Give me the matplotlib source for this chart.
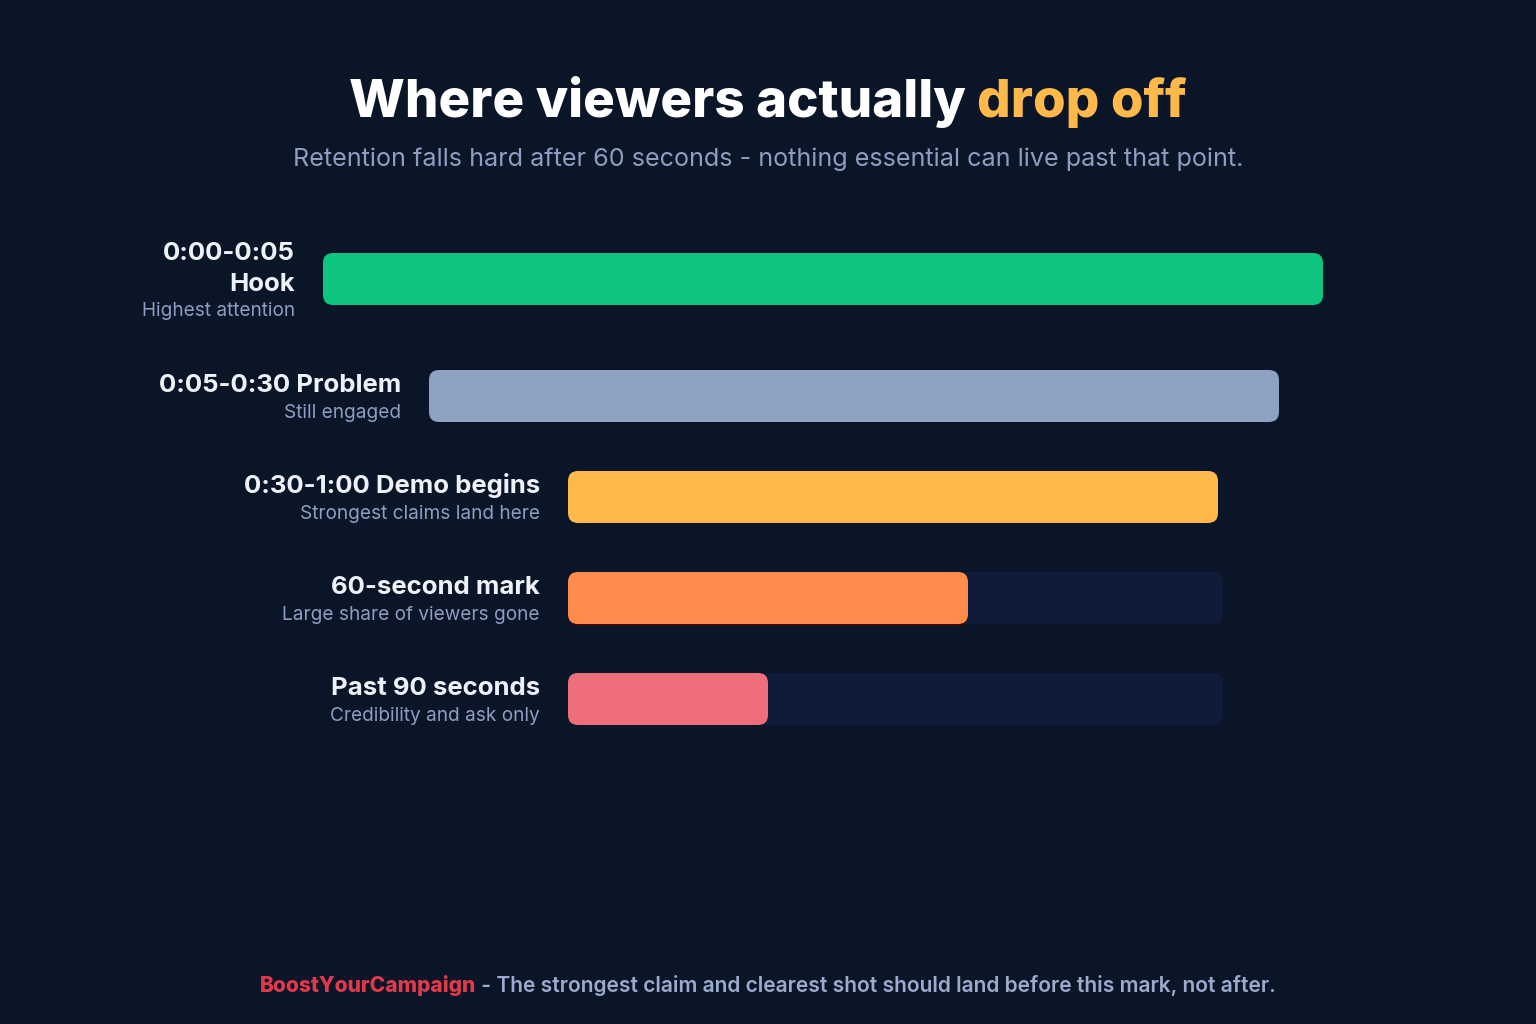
import matplotlib
matplotlib.use("Agg")
import matplotlib.pyplot as plt
from matplotlib.patches import FancyBboxPatch

# ---- data ----
labels = ["0:00-0:05\nHook", "0:05-0:30 Problem", "0:30-1:00 Demo begins",
          "60-second mark", "Past 90 seconds"]
sublabels = ["Highest attention", "Still engaged", "Strongest claims land here",
             "Large share of viewers gone", "Credibility and ask only"]
values = [100, 85, 65, 40, 20]          # retention share (bar length)
track = [0, 0, 0, 65.5, 65.5]           # background track length
colors = ["#0ec57f", "#8fa2c4", "#ffb84a", "#ff8c4c", "#ee6e7c"]

title_a = "Where viewers actually "
title_b = "drop off"
subtitle = "Retention falls hard after 60 seconds - nothing essential can live past that point."
brand = "BoostYourCampaign"
footer = " - The strongest claim and clearest shot should land before this mark, not after."

BG = "#0b1528"
TRACK = "#0f1b38"
WHITE = "#eef2f8"
MUTED = "#8e9ec0"

plt.rcParams["font.family"] = ["Inter", "DejaVu Sans"]

fig = plt.figure(figsize=(15.36, 10.24), dpi=100, facecolor=BG)
ax = fig.add_axes([0, 0, 1, 1])
ax.set_xlim(0, 1536)
ax.set_ylim(1024, 0)
ax.axis("off")
ax.set_facecolor(BG)

# layout (pixel coords)
starts = [323, 429, 568, 568, 568]
centers = [279, 396, 497, 598, 699]
bar_h = 52
scale = 10.0  # px per unit
rad = 10
LFS = 18.5
SFS = 13.7

for i in range(len(values)):
    x0 = starts[i]
    yc = centers[i]
    if track[i] > 0:
        ax.add_patch(FancyBboxPatch((x0 + rad, yc - bar_h / 2 + rad),
                                    track[i] * scale - 2 * rad, bar_h - 2 * rad,
                                    boxstyle=f"round,pad={rad}", fc=TRACK, ec="none", zorder=1))
    w = values[i] * scale
    if i == 3:
        ax.add_patch(FancyBboxPatch((x0 + rad, yc - bar_h / 2 + rad + 2),
                                    w - 2 * rad, bar_h - 2 * rad,
                                    boxstyle=f"round,pad={rad}", fc="#3a0d0a", ec="none", zorder=1.5))
    ax.add_patch(FancyBboxPatch((x0 + rad, yc - bar_h / 2 + rad),
                                w - 2 * rad, bar_h - 2 * rad,
                                boxstyle=f"round,pad={rad}", fc=colors[i], ec="none", zorder=2))
    lx = x0 - 28
    if "\n" in labels[i]:
        l1, l2 = labels[i].split("\n")
        ax.text(lx, 260, l1, ha="right", va="baseline", color=WHITE, fontsize=LFS, fontweight="bold")
        ax.text(lx, 291, l2, ha="right", va="baseline", color=WHITE, fontsize=LFS, fontweight="bold")
        ax.text(lx, 316, sublabels[i], ha="right", va="baseline", color=MUTED, fontsize=SFS)
    else:
        ax.text(lx, yc - 4, labels[i], ha="right", va="baseline", color=WHITE, fontsize=LFS, fontweight="bold")
        ax.text(lx, yc + 22, sublabels[i], ha="right", va="baseline", color=MUTED, fontsize=SFS)

# ---- title with two colours ----
fig.canvas.draw()
r = fig.canvas.get_renderer()

def width_px(t):
    bb = t.get_window_extent(renderer=r)
    return bb.width

TFS = 38
ta = ax.text(0, 117, title_a, ha="left", va="baseline", color="#ffffff", fontsize=TFS, fontweight="heavy")
tb = ax.text(0, 117, title_b, ha="left", va="baseline", color="#ffb84a", fontsize=TFS, fontweight="heavy")
wa, wb = width_px(ta), width_px(tb)
x_start = 768 - (wa + wb) / 2
ta.set_x(x_start)
tb.set_x(x_start + wa)

ax.text(768, 166, subtitle, ha="center", va="baseline", color=MUTED, fontsize=18.1)

# ---- footer ----
FFS = 15.1
fa = ax.text(0, 992, brand, ha="left", va="baseline", color="#e0394a", fontsize=FFS, fontweight="heavy")
fb = ax.text(0, 992, footer, ha="left", va="baseline", color="#9aabcc", fontsize=FFS, fontweight="semibold")
wa, wb = width_px(fa), width_px(fb)
x_start = 768 - (wa + wb) / 2
fa.set_x(x_start)
fb.set_x(x_start + wa)

fig.savefig("out.png", dpi=100, facecolor=BG)
